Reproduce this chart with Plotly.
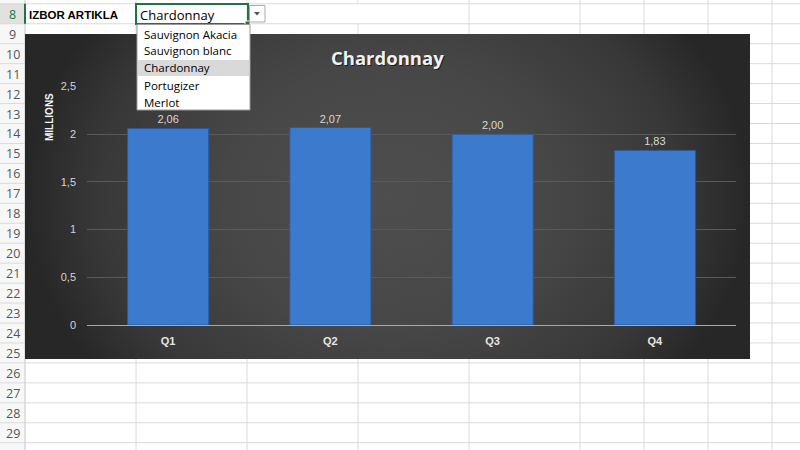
import base64
import plotly.graph_objects as go

# ---- data ----
quarters = ["Q1", "Q2", "Q3", "Q4"]
values = [2.06, 2.07, 2.00, 1.83]
chart_title = "Chardonnay"
y_title = "MILLIONS"
y_ticks = [0, 0.5, 1, 1.5, 2, 2.5]
articles = ["Sauvignon Akacia", "Sauvignon blanc", "Chardonnay", "Portugizer", "Merlot"]
selected = "Chardonnay"
label_text = "IZBOR ARTIKLA"
row_numbers = list(range(8, 30))

W, H = 800, 450


def xp(px):
    return px / W


def yp(py):
    return 1 - py / H


# chart rectangle (pixels)
CX0, CX1, CY0, CY1 = 25, 750, 34, 359
# plot area (pixels)
PX0, PX1, PY_TOP, PY_ZERO = 87, 736, 86.5, 325

ROW0, ROWH = 3.8, 19.95
col_lines = [136, 247, 358, 469, 580, 644, 708, 772]
GRID = "#dadada"

shapes = []
# header column background
shapes.append(dict(type="rect", xref="paper", yref="paper", x0=0, x1=xp(25), y0=0, y1=1,
                   fillcolor="#f7f7f7", line_width=0, layer="below"))
shapes.append(dict(type="rect", xref="paper", yref="paper", x0=0, x1=xp(25), y0=yp(ROW0 + ROWH), y1=yp(ROW0),
                   fillcolor="#e1e1e1", line_width=0, layer="below"))


def hline(x0, x1, y, color=GRID, w=1):
    shapes.append(dict(type="line", xref="paper", yref="paper", x0=xp(x0), x1=xp(x1), y0=yp(y), y1=yp(y),
                       line=dict(color=color, width=w), layer="below"))


def vline(x, y0, y1, color=GRID, w=1):
    shapes.append(dict(type="line", xref="paper", yref="paper", x0=xp(x), x1=xp(x), y0=yp(y0), y1=yp(y1),
                       line=dict(color=color, width=w), layer="below"))


for k in range(len(row_numbers) + 1):
    y = ROW0 + ROWH * k
    if CY0 < y < CY1:
        hline(0, CX0, y)
        hline(CX1, W, y)
    else:
        hline(0, W, y)

for x in col_lines:
    if x < CX1:
        if x == 358:
            vline(x, 0, ROW0)
            vline(x, ROW0 + ROWH, CY0)
        else:
            vline(x, 0, CY0)
        vline(x, CY1, H)
    else:
        vline(x, 0, H)

# header right border
vline(25, 0, H, color="#c6c6c6")
vline(25, ROW0, ROW0 + ROWH, color="#217346", w=2)

# active cell border + fill handle
shapes.append(dict(type="rect", xref="paper", yref="paper", x0=xp(136), x1=xp(248), y0=yp(24), y1=yp(4),
                   line=dict(color="#217346", width=2), fillcolor="rgba(0,0,0,0)", layer="above"))
shapes.append(dict(type="rect", xref="paper", yref="paper", x0=xp(245), x1=xp(250), y0=yp(26), y1=yp(21),
                   line=dict(color="#ffffff", width=1), fillcolor="#217346", layer="above"))
# dropdown button
shapes.append(dict(type="rect", xref="paper", yref="paper", x0=xp(249.5), x1=xp(265), y0=yp(22), y1=yp(5.5),
                   line=dict(color="#ababab", width=1), fillcolor="#ffffff", layer="above"))
shapes.append(dict(type="path", xref="paper", yref="paper",
                   path=f"M{xp(254)},{yp(12)} L{xp(260)},{yp(12)} L{xp(257)},{yp(15.5)} Z",
                   line=dict(width=0), fillcolor="#555555", layer="above"))
# list box
LB_X0, LB_X1, LB_Y0, LB_Y1 = 137, 250, 24.5, 110
shapes.append(dict(type="rect", xref="paper", yref="paper", x0=xp(LB_X0), x1=xp(LB_X1), y0=yp(LB_Y1), y1=yp(LB_Y0),
                   line=dict(color="#9a9a9a", width=1), fillcolor="#ffffff", layer="above"))
ITEM_Y0, ITEM_H = 25.5, 17
sel_i = articles.index(selected)
shapes.append(dict(type="rect", xref="paper", yref="paper", x0=xp(LB_X0 + 1), x1=xp(LB_X1 - 1),
                   y0=yp(ITEM_Y0 + ITEM_H * (sel_i + 1) - 0.5), y1=yp(ITEM_Y0 + ITEM_H * sel_i + 0.5),
                   line=dict(width=0), fillcolor="#d9d9d9", layer="above"))

annotations = []
for i, n in enumerate(row_numbers):
    annotations.append(dict(xref="paper", yref="paper", x=xp(12.5), y=yp(ROW0 + ROWH * i + 10.5), text=str(n),
                            showarrow=False, xanchor="center", yanchor="middle",
                            font=dict(family="Open Sans", size=12.5, color="#217346" if n == 8 else "#555555")))
annotations.append(dict(xref="paper", yref="paper", x=xp(27), y=yp(14.5), text=f"<b>{label_text}</b>",
                        showarrow=False, xanchor="left", yanchor="middle",
                        font=dict(family="Liberation Sans", size=11.5, color="#000000")))
annotations.append(dict(xref="paper", yref="paper", x=xp(138), y=yp(14.5), text=selected,
                        showarrow=False, xanchor="left", yanchor="middle",
                        font=dict(family="Open Sans", size=13, color="#000000")))
for i, a in enumerate(articles):
    annotations.append(dict(xref="paper", yref="paper", x=xp(142), y=yp(ITEM_Y0 + ITEM_H * i + 8.5), text=a,
                            showarrow=False, xanchor="left", yanchor="middle",
                            font=dict(family="Open Sans", size=11.5, color="#000000")))

# chart title (with soft shadow) and axis title
annotations.append(dict(xref="paper", yref="paper", x=xp(388.5), y=yp(58.5), text=f"<b>{chart_title}</b>",
                        showarrow=False, xanchor="center", yanchor="middle",
                        font=dict(family="Open Sans", size=18.5, color="rgba(0,0,0,0.6)")))
annotations.append(dict(xref="paper", yref="paper", x=xp(387.5), y=yp(57.5), text=f"<b>{chart_title}</b>",
                        showarrow=False, xanchor="center", yanchor="middle",
                        font=dict(family="Open Sans", size=18.5, color="#f0f0f0")))
annotations.append(dict(xref="paper", yref="paper", x=xp(49), y=yp(117), text=f"<b>{y_title}</b>",
                        showarrow=False, xanchor="center", yanchor="middle", textangle=-90,
                        font=dict(family="Liberation Sans", size=10, color="#f2f2f2")))

# gradient background for the chart area
svg = (
    "<svg xmlns='http://www.w3.org/2000/svg' width='725' height='325' viewBox='0 0 725 325' "
    "preserveAspectRatio='none'><defs>"
    "<radialGradient id='g' cx='0.5' cy='0.5' r='0.5' "
    "gradientTransform='translate(0.5,0.5) scale(1,1.8) translate(-0.5,-0.5)'>"
    "<stop offset='0' stop-color='#4e4e4e'/><stop offset='0.45' stop-color='#474747'/>"
    "<stop offset='0.8' stop-color='#383838'/><stop offset='1' stop-color='#272727'/>"
    "</radialGradient></defs><rect width='725' height='325' fill='url(#g)'/></svg>"
)
src = "data:image/svg+xml;base64," + base64.b64encode(svg.encode()).decode()

fig = go.Figure()
# dummy trace for background subplot
fig.add_trace(go.Scatter(x=[0, 1], y=[0, 1], mode="markers", marker=dict(opacity=0), hoverinfo="skip",
                         showlegend=False, xaxis="x", yaxis="y"))
fig.add_trace(go.Bar(
    x=quarters, y=values, xaxis="x2", yaxis="y2", width=0.5,
    marker=dict(color="#3b7acd", line=dict(color="#2a5a9c", width=1)),
    texttemplate="%{y:.2f}", textposition="outside", cliponaxis=False,
    textfont=dict(family="Liberation Sans", size=11, color="#d8d8d8"),
    showlegend=False,
))

fig.update_layout(
    template="none",
    width=W, height=H,
    margin=dict(l=0, r=0, t=0, b=0, pad=0, autoexpand=False),
    paper_bgcolor="#ffffff", plot_bgcolor="rgba(0,0,0,0)",
    separators=", ",
    shapes=shapes, annotations=annotations,
    images=[dict(source=src, xref="x", yref="y", x=0, y=1, sizex=1, sizey=1,
                 sizing="stretch", xanchor="left", yanchor="top", layer="below")],
    xaxis=dict(domain=[xp(CX0), xp(CX1)], range=[0, 1], visible=False, fixedrange=True, automargin=False),
    yaxis=dict(domain=[yp(CY1), yp(CY0)], range=[0, 1], visible=False, fixedrange=True, automargin=False),
    xaxis2=dict(domain=[xp(PX0), xp(PX1)], anchor="y2", showgrid=False, showline=False, ticks="",
                automargin=False,
                tickfont=dict(family="Liberation Sans", size=11, color="#e6e6e6", weight="bold"),
                ticklabelstandoff=8),
    yaxis2=dict(domain=[yp(PY_ZERO), yp(PY_TOP)], anchor="x2", range=[0, 2.5], tickvals=y_ticks,
                showgrid=True, gridcolor="#5a5a5a", gridwidth=1, automargin=False,
                zeroline=True, zerolinecolor="#a8a8a8", zerolinewidth=1,
                showline=False, ticks="", ticklabelstandoff=10,
                tickfont=dict(family="Liberation Sans", size=11, color="#d4d4d4")),
    bargap=0.5,
)

fig.write_html("out.html")
